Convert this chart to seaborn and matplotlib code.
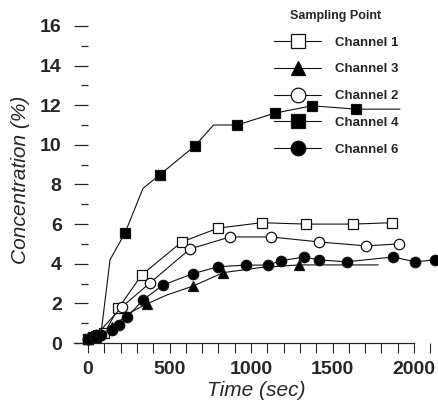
import numpy as np
import pandas as pd
import seaborn as sns
import matplotlib.pyplot as plt
from matplotlib.ticker import MultipleLocator

# values (time in sec, concentration in %)
t_ch1 = [0, 50, 100, 186, 329, 575, 800, 1066, 1337, 1626, 1865]
c_ch1 = [0.2, 0.35, 0.5, 1.75, 3.43, 5.1, 5.8, 6.07, 6.0, 6.0, 6.07]

t_ch3 = [0, 50, 150, 250, 360, 483, 646, 830, 1050, 1294, 1780]
c_ch3 = [0.2, 0.3, 0.8, 1.5, 1.97, 2.42, 2.88, 3.55, 3.8, 3.94, 3.94]

t_ch2 = [0, 50, 208, 380, 626, 871, 1123, 1417, 1705, 1908]
c_ch2 = [0.2, 0.4, 1.82, 3.03, 4.75, 5.35, 5.35, 5.1, 4.9, 5.0]

t_ch4 = [0, 30, 60, 80, 135, 227, 337, 442, 656, 770, 914, 1147, 1374, 1644, 1914]
c_ch4 = [0.2, 0.3, 0.4, 0.5, 4.2, 5.55, 7.8, 8.5, 9.95, 11.0, 11.0, 11.6, 11.97, 11.8, 11.8]

t_ch6 = [0, 40, 80, 150, 190, 239, 337, 460, 645, 800, 969, 1104, 1184, 1325, 1417, 1589, 1871, 2006, 2129]
c_ch6 = [0.2, 0.3, 0.4, 0.65, 0.9, 1.3, 2.17, 2.93, 3.5, 3.85, 3.93, 3.93, 4.15, 4.34, 4.19, 4.1, 4.34, 4.1, 4.19]

series = [
    ('Channel 1', t_ch1, c_ch1, 's', 'white', None),
    ('Channel 3', t_ch3, c_ch3, '^', 'black', [0, 1, 2, 4, 6, 7, 9]),
    ('Channel 2', t_ch2, c_ch2, 'o', 'white', None),
    ('Channel 4', t_ch4, c_ch4, 's', 'black', [0, 1, 2, 5, 7, 8, 10, 11, 12, 13]),
    ('Channel 6', t_ch6, c_ch6, 'o', 'black', None),
]

sns.set_style('ticks')
plt.rcParams['font.family'] = ['Liberation Sans', 'DejaVu Sans']

fig = plt.figure(figsize=(4.39, 4.16), dpi=100)
ax = fig.add_axes([74 / 439, 73 / 416, 365 / 439, 327 / 416])

for name, t, c, mk, fc, every in series:
    df = pd.DataFrame({'Time': t, 'Conc': c})
    ms = 7.5 if mk != '^' else 7
    sns.lineplot(data=df, x='Time', y='Conc', ax=ax, color='#111111', lw=0.8,
                 marker=mk, markersize=ms, markerfacecolor=fc,
                 markeredgecolor='#111111', markeredgewidth=0.9,
                 markevery=every, estimator=None, sort=False,
                 label=name, clip_on=False, zorder=3)

ax.set_xlim(-86, 2153)
ax.set_ylim(0, 16.5)

for s in ['top', 'right', 'left']:
    ax.spines[s].set_visible(False)
ax.spines['left'].set_position(('data', 0))
ax.spines['bottom'].set_bounds(-86, 2000)
ax.spines['bottom'].set_linewidth(0.9)

ax.xaxis.set_major_locator(MultipleLocator(500))
ax.xaxis.set_minor_locator(MultipleLocator(100))
ax.yaxis.set_major_locator(MultipleLocator(2))
ax.yaxis.set_minor_locator(MultipleLocator(1))
ax.set_xticks(np.arange(0, 2001, 500))
ax.tick_params(axis='x', which='both', direction='out', length=7, width=0.8, pad=6,
               labelsize=14)
ax.tick_params(axis='y', which='major', direction='out', length=10, width=0.9, pad=9,
               labelsize=14)
ax.tick_params(axis='y', which='minor', direction='out', length=5, width=0.9)
for lab in ax.get_xticklabels() + ax.get_yticklabels():
    lab.set_fontweight('bold')

ax.set_xlabel('Time (sec)', fontsize=15, style='italic', labelpad=2)
ax.set_ylabel('Concentration (%)', fontsize=15, style='italic', labelpad=7)

handles, labels = ax.get_legend_handles_labels()
leg = ax.legend(handles, labels, title='Sampling Point', loc='upper left',
                bbox_to_anchor=(262 / 439, 1 + 2 / 416), bbox_transform=fig.transFigure,
                frameon=False, markerscale=1.4, handlelength=3.6, handletextpad=1.0,
                labelspacing=1.1, prop={'size': 9.5, 'weight': 'bold'})
leg.get_title().set_fontsize(9)
leg.get_title().set_fontweight('bold')

fig.savefig('out.png', dpi=100)
